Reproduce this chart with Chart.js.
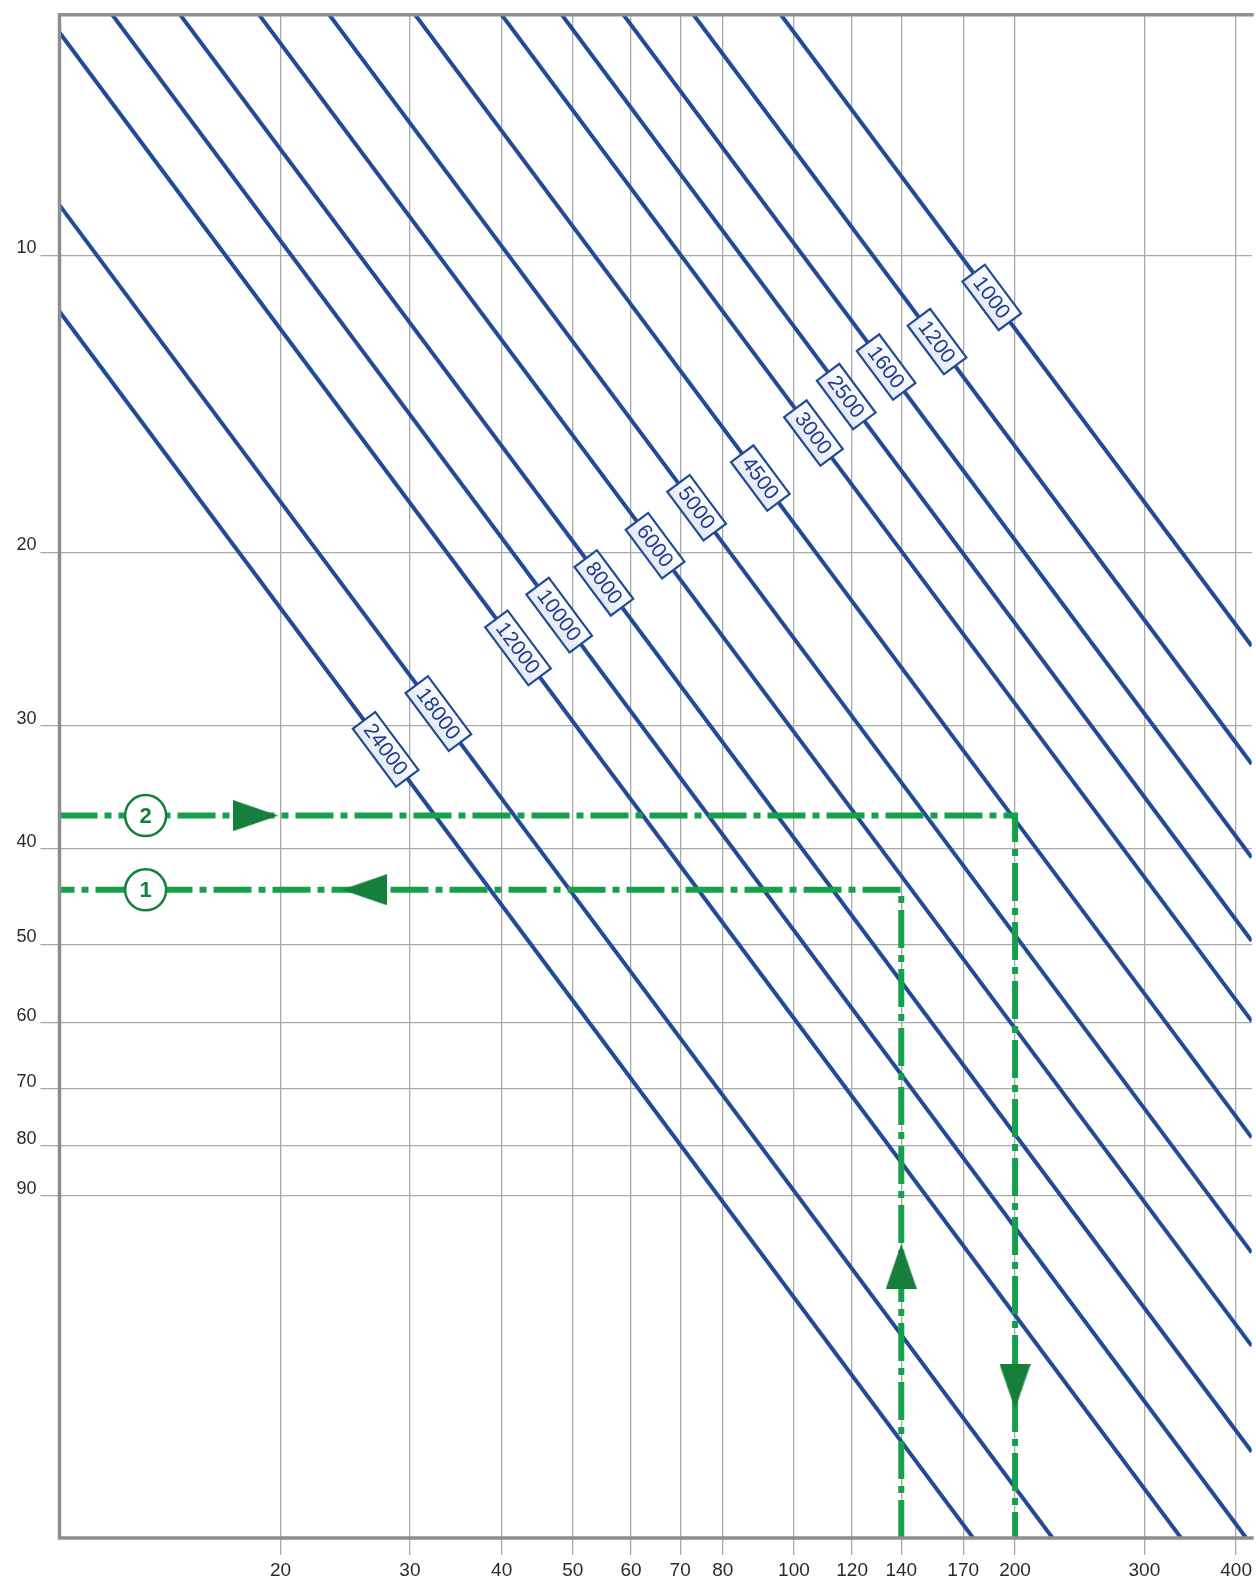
<!DOCTYPE html>
<html>
<head>
<meta charset="utf-8">
<script src="https://cdn.jsdelivr.net/npm/chart.js@4.4.1/dist/chart.umd.min.js"></script>
<style>
  html, body { margin: 0; padding: 0; background: #fff; overflow: hidden; }
  canvas { display: block; }
</style>
</head>
<body>
<canvas id="nomogram" width="1256" height="1585"></canvas>
<script>
// axis ticks (both log scales, y runs downwards)
const xTicks = [20, 30, 40, 50, 60, 70, 80, 100, 120, 140, 170, 200, 300, 400];
const yTicks = [10, 20, 30, 40, 50, 60, 70, 80, 90];

// diagonal lines, read where they enter and leave the plot
const lineLabels = ['1000', '1200', '1600', '2500', '3000', '4500', '5000', '6000', '8000', '10000', '12000', '18000', '24000'];
const lineStartX = [96.0, 73.0, 58.6, 48.3, 40.0, 30.5, 23.3, 18.7, 14.6, 11.8, 10, 10, 10];
const lineStartY = [5.7, 5.7, 5.7, 5.7, 5.7, 5.7, 5.7, 5.7, 5.7, 5.7, 5.94, 8.89, 11.4];
const lineEndX = [420, 420, 420, 420, 420, 420, 420, 420, 420, 412.8, 336.6, 225.0, 175.4];
const lineEndY = [24.9, 32.8, 40.8, 49.6, 59.8, 78.5, 102.7, 127.7, 163.5, 200, 200, 200, 200];
// x position of each line's label box
const labelX = [185.9, 156.6, 133.5, 117.8, 106.3, 90.0, 73.7, 64.7, 55.1, 47.9, 42.1, 32.8, 27.8];

// green example paths
const path2X = [10, 200, 200];
const path2Y = [37, 37, 200];
const path1X = [140, 140, 10];
const path1Y = [200, 44, 44];
const markerX = [13.1, 13.1];
const markerY = [37, 44];
const markerText = ['2', '1'];
const arrowX = [18.5, 26.0, 140, 200];
const arrowY = [37, 44, 106, 140.5];
const arrowDir = [0, 180, -90, 90];

const BLUE = '#224b97';
const GREEN = '#17a04b';
const DARK_GREEN = '#157f3b';
const GRID = '#a9a9a9';
const FRAME = '#8e8e8e';

function makeArrow(len, wid, color) {
  const c = document.createElement('canvas');
  c.width = len; c.height = wid;
  const g = c.getContext('2d');
  g.fillStyle = color;
  g.beginPath();
  g.moveTo(0, 0);
  g.lineTo(len, wid / 2);
  g.lineTo(0, wid);
  g.closePath();
  g.fill();
  return c;
}
const arrowImg = makeArrow(45, 31, DARK_GREEN);

const toPts = (xs, ys) => xs.map((v, i) => ({x: v, y: ys[i]}));

const datasets = [];
datasets.push({
  data: toPts(markerX, markerY),
  pointRadius: 20.5,
  pointBackgroundColor: '#fff',
  pointBorderColor: DARK_GREEN,
  pointBorderWidth: 2.5,
  order: 0
});
datasets.push({
  data: toPts(arrowX, arrowY),
  pointStyle: arrowImg,
  pointRotation: arrowDir,
  order: 1
});
[[path2X, path2Y], [path1X, path1Y]].forEach(([xs, ys]) => {
  datasets.push({
    data: toPts(xs, ys),
    showLine: true,
    borderColor: GREEN,
    borderWidth: 6,
    borderDash: [38, 7, 7, 7],
    borderCapStyle: 'butt',
    pointRadius: 0,
    order: 2
  });
});
const firstLine = datasets.length;
lineLabels.forEach((lab, i) => {
  datasets.push({
    label: lab,
    data: [{x: lineStartX[i], y: lineStartY[i]}, {x: lineEndX[i], y: lineEndY[i]}],
    showLine: true,
    borderColor: BLUE,
    borderWidth: 4,
    pointRadius: 0,
    order: 3
  });
});

const decor = {
  id: 'decor',
  afterDatasetsDraw(chart) {
    const {ctx, chartArea: a, scales: {x}} = chart;
    ctx.save();
    // frame: left, top, bottom
    ctx.strokeStyle = FRAME;
    ctx.lineWidth = 3.5;
    ctx.beginPath();
    ctx.moveTo(a.right + 2, a.top);
    ctx.lineTo(a.left, a.top);
    ctx.lineTo(a.left, a.bottom);
    ctx.lineTo(a.right + 2, a.bottom);
    ctx.stroke();

    // label boxes on the diagonal lines
    ctx.font = '21px "Liberation Sans", Arial, sans-serif';
    ctx.textAlign = 'center';
    ctx.textBaseline = 'middle';
    lineLabels.forEach((lab, i) => {
      const pts = chart.getDatasetMeta(firstLine + i).data;
      const p0 = pts[0], p1 = pts[1];
      const ang = Math.atan2(p1.y - p0.y, p1.x - p0.x);
      const px = x.getPixelForValue(labelX[i]);
      const py = p0.y + (px - p0.x) / (p1.x - p0.x) * (p1.y - p0.y);
      const w = ctx.measureText(lab).width + 14, h = 28;
      ctx.save();
      ctx.translate(px, py);
      ctx.rotate(ang);
      const grad = ctx.createLinearGradient(0, -h / 2, 0, h / 2);
      grad.addColorStop(0, '#ffffff');
      grad.addColorStop(1, '#e3e8f1');
      ctx.fillStyle = grad;
      ctx.fillRect(-w / 2, -h / 2, w, h);
      ctx.strokeStyle = BLUE;
      ctx.lineWidth = 2.2;
      ctx.strokeRect(-w / 2, -h / 2, w, h);
      ctx.fillStyle = '#1f3c8c';
      ctx.fillText(lab, 0, 1);
      ctx.restore();
    });

    // numbers in the green circles
    const mk = chart.getDatasetMeta(0).data;
    ctx.font = 'bold 22px "Liberation Sans", Arial, sans-serif';
    ctx.fillStyle = DARK_GREEN;
    mk.forEach((p, i) => ctx.fillText(markerText[i], p.x, p.y + 1));
    ctx.restore();
  }
};

const tickFont = {family: '"Liberation Sans", Arial, sans-serif', size: 19};

new Chart(document.getElementById('nomogram'), {
  type: 'scatter',
  data: {datasets},
  options: {
    responsive: false,
    devicePixelRatio: 1,
    animation: false,
    events: [],
    layout: {autoPadding: false, padding: {top: 8, right: 0, left: 0, bottom: 0}},
    plugins: {legend: {display: false}, tooltip: {enabled: false}},
    scales: {
      x: {
        type: 'logarithmic',
        min: 10,
        max: 420,
        bounds: 'data',
        afterBuildTicks: s => { s.ticks = xTicks.map(v => ({value: v})); },
        afterFit: s => { s.height = 47; },
        grid: {color: GRID, lineWidth: 1.3, tickLength: 17},
        border: {display: false},
        ticks: {
          autoSkip: false,
          maxRotation: 0,
          padding: 4,
          color: '#2a2a2a',
          font: tickFont,
          callback: v => String(v)
        }
      },
      y: {
        type: 'logarithmic',
        reverse: true,
        min: 5.7,
        max: 200,
        bounds: 'data',
        afterBuildTicks: s => { s.ticks = yTicks.map(v => ({value: v})); },
        afterFit: s => { s.width = 59.5; },
        grid: {color: GRID, lineWidth: 1.3, tickLength: 19},
        border: {display: false},
        ticks: {
          autoSkip: false,
          padding: 4,
          labelOffset: -7,
          color: '#2a2a2a',
          font: {family: tickFont.family, size: 18},
          callback: v => String(v)
        }
      }
    }
  },
  plugins: [decor]
});
</script>
</body>
</html>
